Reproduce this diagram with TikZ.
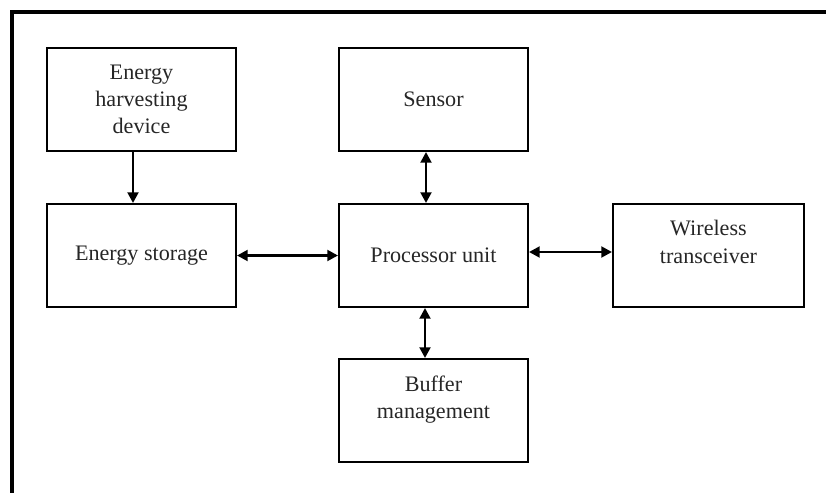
\documentclass[tikz,border=0pt]{standalone}
\usepackage{fontspec}
\setmainfont{Liberation Serif}
\usetikzlibrary{arrows.meta,calc}
\tikzset{
  blockbox/.style={draw=black, line width=1.7pt, minimum width=141.5pt, minimum height=77pt,
    inner sep=0pt, align=center, font=\fontsize{16.6}{20.4}\selectfont, text=black!85},
  link/.style={line width=2.1pt, -{Triangle[length=8pt,width=8pt]}},
  link2/.style={line width=2.1pt, {Triangle[length=8pt,width=8pt]}-{Triangle[length=8pt,width=8pt]}},
}
\begin{document}
\begin{tikzpicture}[x=0.75pt,y=-0.75pt]
\useasboundingbox (0,0) rectangle (826,493);
\draw[line width=2.3pt] (830,12) -- (12,12) -- (12,497);
\node[blockbox] (harvest) at (141.5,99.5) {Energy\\harvesting\\device};
\node[blockbox] (storage) at (141.5,255.5) {Energy storage};
\node[blockbox] (sensor) at (433.5,99.5) {Sensor};
\node[blockbox] (proc) at (433.5,255.5) {Processor unit};
\node[blockbox, minimum width=143pt] (wireless) at (708.5,255.5) {Wireless\\transceiver\\\mbox{}};
\node[blockbox] (buffer) at (433.5,410.5) {Buffer\\management\\\mbox{}};
\draw[link] ($(harvest.south)+(-8.5,0)$) -- ($(storage.north)+(-8.5,0)$);
\draw[link2] (storage.east) -- (proc.west);
\draw[link2] ($(proc.east)+(0,-3.5)$) -- ($(wireless.west)+(0,-3.5)$);
\draw[link2] ($(sensor.south)+(-7.5,0)$) -- ($(proc.north)+(-7.5,0)$);
\draw[link2] ($(proc.south)+(-8.5,0)$) -- ($(buffer.north)+(-8.5,0)$);
\end{tikzpicture}
\end{document}
